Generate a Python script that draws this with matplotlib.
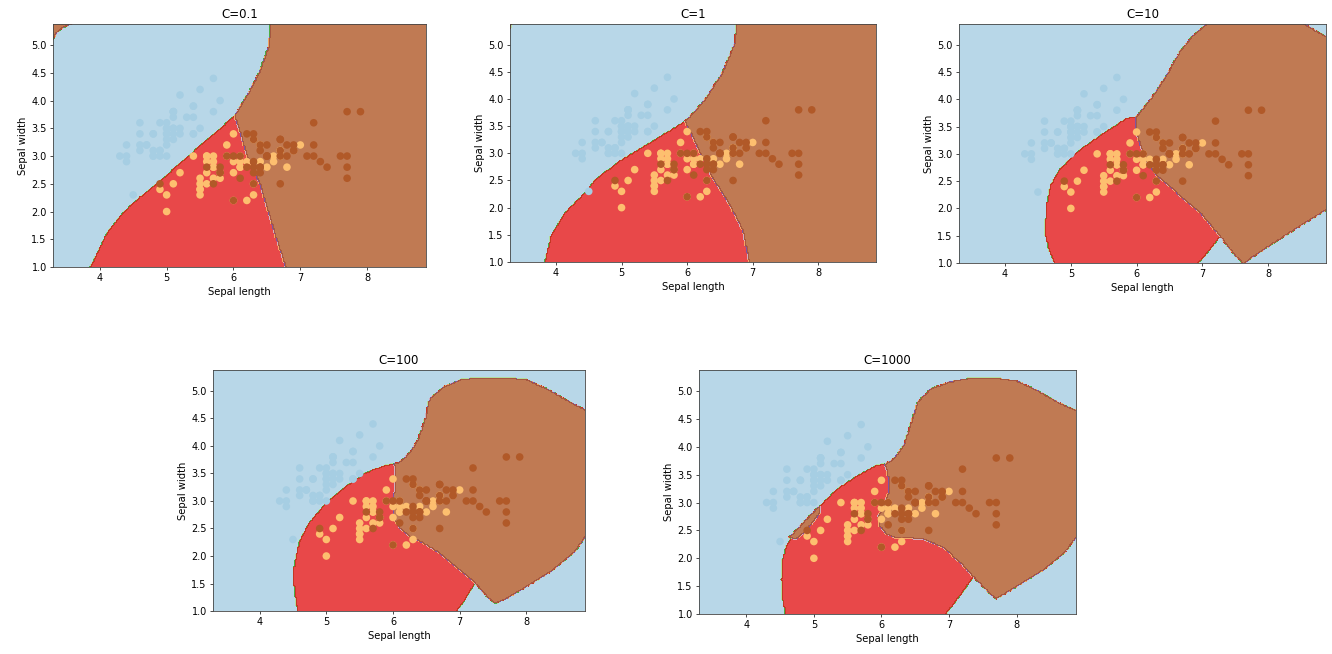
import numpy as np
import matplotlib
matplotlib.use("Agg")
import matplotlib.pyplot as plt
from matplotlib.path import Path

# ---------------- Iris data (sepal length, sepal width) ----------------
setosa_length = [5.1,4.9,4.7,4.6,5.0,5.4,4.6,5.0,4.4,4.9,5.4,4.8,4.8,4.3,5.8,5.7,5.4,5.1,5.7,5.1,
                 5.4,5.1,4.6,5.1,4.8,5.0,5.0,5.2,5.2,4.7,4.8,5.4,5.2,5.5,4.9,5.0,5.5,4.9,4.4,5.1,
                 5.0,4.5,4.4,5.0,5.1,4.8,5.1,4.6,5.3,5.0]
setosa_width = [3.5,3.0,3.2,3.1,3.6,3.9,3.4,3.4,2.9,3.1,3.7,3.4,3.0,3.0,4.0,4.4,3.9,3.5,3.8,3.8,
                3.4,3.7,3.6,3.3,3.4,3.0,3.4,3.5,3.4,3.2,3.1,3.4,4.1,4.2,3.1,3.2,3.5,3.6,3.0,3.4,
                3.5,2.3,3.2,3.5,3.8,3.0,3.8,3.2,3.7,3.3]
versicolor_length = [7.0,6.4,6.9,5.5,6.5,5.7,6.3,4.9,6.6,5.2,5.0,5.9,6.0,6.1,5.6,6.7,5.6,5.8,6.2,5.6,
                     5.9,6.1,6.3,6.1,6.4,6.6,6.8,6.7,6.0,5.7,5.5,5.5,5.8,6.0,5.4,6.0,6.7,6.3,5.6,5.5,
                     5.5,6.1,5.8,5.0,5.6,5.7,5.7,6.2,5.1,5.7]
versicolor_width = [3.2,3.2,3.1,2.3,2.8,2.8,3.3,2.4,2.9,2.7,2.0,3.0,2.2,2.9,2.9,3.1,3.0,2.7,2.2,2.5,
                    3.2,2.8,2.5,2.8,2.9,3.0,2.8,3.0,2.9,2.6,2.4,2.4,2.7,2.7,3.0,3.4,3.1,2.3,3.0,2.5,
                    2.6,3.0,2.6,2.3,2.7,3.0,2.9,2.9,2.5,2.8]
virginica_length = [6.3,5.8,7.1,6.3,6.5,7.6,4.9,7.3,6.7,7.2,6.5,6.4,6.8,5.7,5.8,6.4,6.5,7.7,7.7,6.0,
                    6.9,5.6,7.7,6.3,6.7,7.2,6.2,6.1,6.4,7.2,7.4,7.9,6.4,6.3,6.1,7.7,6.3,6.4,6.0,6.9,
                    6.7,6.9,5.8,6.8,6.7,6.7,6.3,6.5,6.2,5.9]
virginica_width = [3.3,2.7,3.0,2.9,3.0,3.0,2.5,2.9,2.5,3.6,3.2,2.7,3.0,2.5,2.8,3.2,3.0,3.8,2.6,2.2,
                   3.2,2.8,2.8,2.7,3.3,3.2,2.8,3.0,2.8,3.0,2.8,3.8,2.8,2.8,2.6,3.0,3.4,3.1,3.0,3.1,
                   3.1,3.1,2.7,3.2,3.3,3.0,2.5,3.0,3.4,3.0]

titles = ["C=0.1", "C=1", "C=10", "C=100", "C=1000"]
x_label = "Sepal length"
y_label = "Sepal width"
x_ticks = [4, 5, 6, 7, 8]
y_ticks = [1.0, 1.5, 2.0, 2.5, 3.0, 3.5, 4.0, 4.5, 5.0]

# ---------------- Decision regions ----------------
# each entry: (class label, polygon vertices in data units); later entries override earlier ones
regions_C0_1 = [
    (2, [(6.02,3.73),(6.16,4.0),(6.385,4.5),(6.535,5.0),(6.55,5.38),(6.55,5.5),(9.0,5.5),(9.0,0.9),
         (6.785,0.9),(6.785,1.0),(6.585,1.74),(6.41,2.46),(6.21,3.0),(6.1,3.43)]),
    (2, [(3.2,5.5),(3.2,5.11),(3.3,5.11),(3.37,5.24),(3.46,5.33),(3.58,5.38),(3.60,5.5)]),
    (1, [(3.86,0.9),(3.86,1.0),(3.94,1.19),(4.11,1.62),(4.35,1.98),(4.6,2.26),(4.91,2.56),(5.41,3.09),
         (5.71,3.40),(6.02,3.73),(6.1,3.43),(6.21,3.0),(6.41,2.46),(6.585,1.74),(6.785,1.0),(6.785,0.9)]),
]
regions_C1 = [
    (2, [(5.97,3.59),(6.10,3.75),(6.28,4.0),(6.54,4.49),(6.72,5.0),(6.76,5.38),(6.76,5.5),(9.0,5.5),(9.0,0.9),
         (6.95,0.9),(6.95,1.0),(6.85,1.59),(6.64,2.08),(6.38,2.57),(6.23,2.94)]),
    (1, [(3.83,0.9),(3.83,1.0),(3.92,1.46),(4.13,1.9),(4.49,2.33),(4.59,2.51),(5.0,2.88),(5.51,3.25),
         (5.97,3.59),(6.23,2.94),(6.38,2.57),(6.64,2.08),(6.85,1.59),(6.95,1.0),(6.95,0.9)]),
    (1, [(3.2,5.5),(3.2,5.3),(3.31,5.3),(3.32,5.38),(3.32,5.5)]),
]
regions_C10 = [
    (2, [(5.99,3.68),(6.06,3.77),(6.26,4.08),(6.46,4.45),(6.66,4.88),(6.87,5.19),(7.05,5.36),(7.12,5.5),
         (8.52,5.5),(8.56,5.37),(8.72,5.26),(8.89,5.14),(9.0,5.07),(9.0,1.9),(8.89,1.98),(8.49,1.68),
         (8.09,1.37),(7.78,1.12),(7.63,0.98),(7.5,1.14),(7.38,1.31),(7.27,1.49),(6.97,1.92),(6.61,2.29),
         (6.31,2.6),(6.16,2.85),(6.06,3.15),(6.0,3.4)]),
    (1, [(5.99,3.68),(5.85,3.65),(5.45,3.34),(5.09,3.03),(4.84,2.72),(4.69,2.42),(4.63,2.05),(4.61,1.55),
         (4.66,1.28),(4.75,1.0),(4.77,0.9),(6.92,0.9),(6.94,1.0),(7.12,1.25),(7.27,1.49),(6.97,1.92),
         (6.61,2.29),(6.31,2.6),(6.16,2.85),(6.06,3.15),(6.0,3.4)]),
]
regions_C100 = [
    (2, [(6.0,3.67),(6.1,3.70),(6.25,3.88),(6.38,4.13),(6.48,4.49),(6.55,4.86),(6.75,5.07),(7.0,5.2),
         (7.31,5.24),(7.71,5.24),(8.01,5.2),(8.31,5.04),(8.61,4.83),(8.89,4.65),(9.0,4.6),(9.0,2.3),
         (8.89,2.36),(8.71,2.05),(8.41,1.75),(8.01,1.45),(7.71,1.23),(7.52,1.14),(7.41,1.26),(7.23,1.51),
         (7.0,1.75),(6.70,2.05),(6.45,2.24),(6.25,2.36),(6.1,2.51),(6.03,2.66),(6.0,2.91),(6.03,3.27),(6.03,3.64)]),
    (1, [(6.0,3.67),(5.90,3.65),(5.6,3.52),(5.30,3.27),(5.0,2.97),(4.74,2.60),(4.59,2.24),(4.52,1.81),
         (4.52,1.45),(4.55,1.14),(4.58,1.0),(4.59,0.9),(6.93,0.9),(6.95,1.0),(7.08,1.2),(7.23,1.51),
         (7.0,1.75),(6.70,2.05),(6.45,2.24),(6.25,2.36),(6.1,2.51),(6.03,2.66),(6.0,2.91),(6.03,3.27),(6.03,3.64)]),
]
regions_C1000 = [
    (2, [(6.05,3.69),(6.18,3.78),(6.33,4.02),(6.43,4.38),(6.53,4.80),(6.73,5.04),(7.02,5.17),(7.32,5.23),
         (7.72,5.23),(8.01,5.18),(8.31,5.01),(8.61,4.80),(8.88,4.65),(9.0,4.6),(9.0,2.3),(8.88,2.37),
         (8.71,2.10),(8.41,1.80),(8.01,1.50),(7.81,1.35),(7.69,1.27),(7.52,1.47),(7.36,1.67),(7.17,1.92),
         (6.92,2.19),(6.63,2.34),(6.38,2.37),(6.23,2.36),(6.08,2.43),(5.98,2.58),(5.96,2.76),(6.03,2.94),
         (6.11,3.18),(6.11,3.42),(6.08,3.60)]),
    (1, [(6.05,3.69),(5.93,3.67),(5.64,3.48),(5.34,3.24),(5.07,2.91),(4.84,2.58),(4.69,2.40),(4.59,2.22),
         (4.54,1.98),(4.52,1.62),(4.54,1.26),(4.58,1.0),(4.59,0.9),(6.93,0.9),(6.95,1.0),(7.12,1.26),
         (7.25,1.47),(7.36,1.67),(7.17,1.92),(6.92,2.19),(6.63,2.34),(6.38,2.37),(6.23,2.36),(6.08,2.43),
         (5.98,2.58),(5.96,2.76),(6.03,2.94),(6.11,3.18),(6.11,3.42),(6.08,3.60)]),
    (2, [(4.63,2.37),(4.82,2.61),(5.09,2.95),(5.08,2.80),(4.90,2.52),(4.74,2.35)]),
]
all_regions = [regions_C0_1, regions_C1, regions_C10, regions_C100, regions_C1000]

# axes placement (figure fractions: left, bottom, width, height)
axes_rects = [
    [0.0398, 0.5917, 0.2800, 0.3716],
    [0.3829, 0.5994, 0.2748, 0.3639],
    [0.7200, 0.5979, 0.2755, 0.3654],
    [0.1599, 0.0657, 0.2793, 0.3685],
    [0.5248, 0.0612, 0.2830, 0.3731],
]

# ---------------- build arrays ----------------
X = np.column_stack([
    np.array(setosa_length + versicolor_length + virginica_length),
    np.array(setosa_width + versicolor_width + virginica_width),
])
y = np.array([0] * len(setosa_length) + [1] * len(versicolor_length) + [2] * len(virginica_length))

h = 0.02
x_min, x_max = X[:, 0].min() - 1, X[:, 0].max() + 1
y_min, y_max = X[:, 1].min() - 1, X[:, 1].max() + 1
xx, yy = np.meshgrid(np.arange(x_min, x_max, h), np.arange(y_min, y_max, h))
grid_pts = np.column_stack([xx.ravel(), yy.ravel()])

fig = plt.figure(figsize=(13.32, 6.54), dpi=100)

for rect, title, regions in zip(axes_rects, titles, all_regions):
    ax = fig.add_axes(rect)
    Z = np.zeros(grid_pts.shape[0])
    for label, poly in regions:
        inside = Path(poly).contains_points(grid_pts)
        Z[inside] = label
    Z = Z.reshape(xx.shape)
    ax.contourf(xx, yy, Z, cmap=plt.cm.Paired, alpha=0.8)
    ax.scatter(X[:, 0], X[:, 1], c=y, cmap=plt.cm.Paired, s=30, linewidths=0)
    ax.set_xlim(xx.min(), xx.max())
    ax.set_ylim(yy.min(), yy.max())
    ax.set_xticks(x_ticks)
    ax.set_yticks(y_ticks)
    ax.set_xlabel(x_label, fontsize=7.2, labelpad=2.5)
    ax.set_ylabel(y_label, fontsize=7.2, labelpad=2.5)
    ax.set_title(title, fontsize=8.5, pad=4)
    ax.tick_params(labelsize=7, length=2.5, width=0.5, pad=2)
    for sp in ax.spines.values():
        sp.set_linewidth(0.6)
        sp.set_color("#444444")

fig.savefig("out.png", dpi=100)
